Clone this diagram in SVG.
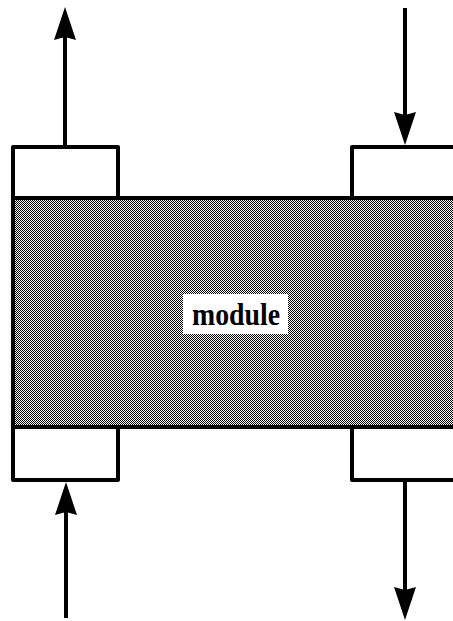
<svg xmlns="http://www.w3.org/2000/svg" width="453" height="621" viewBox="0 0 453 621">
  <style>
    .box { fill: #fff; stroke: #000; stroke-width: 4; stroke-linejoin: round; }
    .body { fill: url(#dither); stroke: #000; stroke-width: 4; }
    .conn { fill: none; stroke: #000; stroke-width: 4; marker-end: url(#head); }
    .label { font-family: "Liberation Serif", "Times New Roman", serif; font-weight: bold; font-size: 32px; fill: #000; }
  </style>
  <defs>
    <pattern id="dither" width="2" height="2" patternUnits="userSpaceOnUse">
      <rect width="2" height="2" fill="#fff"/>
      <rect width="1" height="1" fill="#000"/>
      <rect x="1" y="1" width="1" height="1" fill="#000"/>
    </pattern>
    <marker id="head" markerUnits="userSpaceOnUse" viewBox="0 0 33 22" markerWidth="33" markerHeight="22" refX="3" refY="11" orient="auto">
      <path d="M0,0 L33,11 L0,22 L3,11 z" fill="#000"/>
    </marker>
  </defs>

  <g id="port-top-left"><rect class="box" x="13" y="147" width="105" height="51"/></g>
  <g id="port-top-right"><rect class="box" x="352" y="147" width="110" height="51"/></g>
  <g id="port-bottom-left"><rect class="box" x="13" y="427" width="105" height="53"/></g>
  <g id="port-bottom-right"><rect class="box" x="352" y="427" width="110" height="53"/></g>

  <g id="module">
    <rect class="body" x="13" y="198" width="449" height="229"/>
    <rect x="183" y="294" width="105" height="40" fill="#fff"/>
    <text class="label" x="236" y="325" text-anchor="middle" textLength="88" lengthAdjust="spacingAndGlyphs">module</text>
  </g>

  <g id="connectors">
    <path class="conn" d="M65,147 L65,37"/>
    <path class="conn" d="M405,8 L405,115"/>
    <path class="conn" d="M66,618 L66,512"/>
    <path class="conn" d="M405,480 L405,590"/>
  </g>
</svg>
